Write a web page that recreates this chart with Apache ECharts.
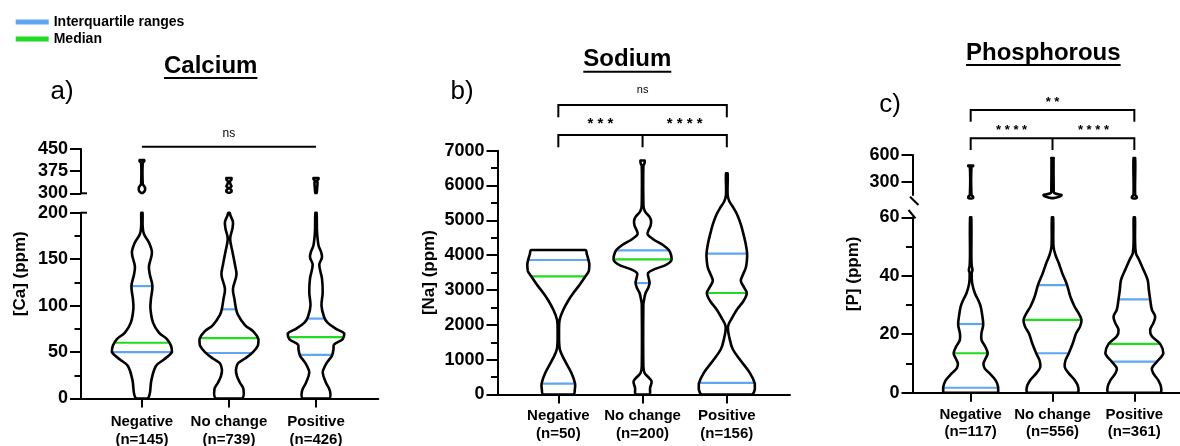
<!DOCTYPE html>
<html><head><meta charset="utf-8">
<script src="https://cdn.jsdelivr.net/npm/echarts@6/dist/echarts.min.js"></script>
<style>html,body{margin:0;padding:0;background:#fff}#c{width:1180px;height:446px}</style>
</head><body><div id="c"></div>
<script>
// ---------------- data ----------------
const categories = ['Negative', 'No change', 'Positive'];
const caCounts = [145, 739, 426];
const naCounts = [50, 200, 156];
const pCounts = [117, 556, 361];

const caQ1 = [50, 49, 47], caMedian = [60, 65, 66], caQ3 = [121, 96, 86];
const naQ1 = [315, 3200, 335], naMedian = [3390, 3881, 2914], naQ3 = [3862, 4138, 4043];
const pQ1 = [1.7, 13.5, 10.6], pMedian = [13.5, 24.9, 16.7], pQ3 = [23.5, 36.8, 31.9];

// violin profiles: [value, relative density (half width)]
const caNegDensity = [[0,6],[20,9.5],[35,14],[42,22],[50,30],[57,29],[64,25],[71,17],[82,11],[97,8.5],[107,9],[121,10.5],[133,8],[142,7],[157,10],[168,7],[177,2],[186,0.7],[200,0.6]];
const caNocDensity = [[0,13],[10,14.5],[17,11],[24,8],[31,7],[38,9],[43,16],[50,24],[57,29],[64,29.5],[72,24.5],[79,16],[90,9],[97,7],[107,5.5],[118,4],[133,7.5],[144,6],[158,3.5],[172,1.2],[183,3.5],[190,4],[197,1.5],[200,0.6]];
const caPosDensity = [[0,13],[8,14],[17,10],[28,6.7],[35,9],[41,12.5],[46,16],[53,17.5],[58,18],[64,26.7],[70,28.3],[75,20],[82,11.3],[88,8],[100,5.5],[114,6.7],[129,6],[144,3.3],[152,6],[158,5],[165,2.5],[180,1],[200,0.6]];
const caNegUpper = [[301,0.6],[306,2.5],[313,3.2],[320,3],[326,1.8],[332,0.8],[403,0.8],[408,2.2],[413,2.2]];
const caNocUpper = [[302,0.8],[305,2.5],[310,2.6],[315,1.2],[319,1.2],[324,2.6],[330,1.6],[340,1],[347,2.5],[352,2.5]];
const caPosUpper = [[301,0.6],[320,1.2],[335,1.5],[343,1.2],[348,2.5],[352,2.5]];

const naNegDensity = [[0,15],[150,16.5],[315,16.7],[622,13],[1000,6],[1300,1.5],[1800,0.7],[2149,1.3],[2435,5],[2700,10],[2914,15],[3165,21.7],[3390,27],[3550,30.5],[3738,31],[3881,30],[4024,28.5],[4150,27]];
const naNocDensity = [[0,6.7],[190,7.5],[380,9],[520,5],[620,2],[800,0.8],[2600,0.8],[2720,1.5],[2914,3],[3050,5.5],[3200,7],[3350,6],[3487,5.5],[3600,12],[3700,22],[3800,27.5],[3880,29],[4000,28.5],[4140,26.5],[4300,20],[4450,11],[4600,5],[4720,6],[4850,8],[4980,8.5],[5100,7],[5230,3],[5350,1.2],[5500,0.8],[6550,0.8],[6650,2],[6720,2]];
const naPosDensity = [[0,25],[150,28],[315,28],[622,23],[1003,13],[1300,6],[1576,3],[1957,1.2],[2212,5.5],[2435,10],[2700,17],[2914,20],[3070,17.3],[3261,14],[3451,16.3],[3642,19],[3833,20],[4043,20.3],[4310,19],[4596,16.7],[4882,14],[5168,10.3],[5358,6.7],[5549,2.5],[5740,0.8],[6350,0.8]];

const pNegDensity = [[0,27.5],[1.9,27.5],[4.2,25],[6.6,19],[8.3,14],[10,12.8],[11.8,15],[13.5,17],[15.8,14.5],[18.1,10.8],[20.4,10.8],[23.2,12.5],[26.1,11.7],[29.5,10],[31.7,7.5],[34,4.2],[37.4,1.5],[40.8,1],[42,1.8],[43.5,1],[46.5,0.7],[60,0.6]];
const pNocDensity = [[0,24.7],[1.9,25.7],[4.2,22.5],[6.6,16.3],[8.8,12.2],[11.1,13],[13.5,16.3],[16.9,20.3],[20.4,23.7],[22.6,27.5],[24.9,29],[27.2,26],[29.5,22],[32.9,17.8],[36.9,14.5],[40.9,9.7],[44.3,6.3],[47.1,3],[50,1],[60,0.6]];
const pPosDensity = [[0,25.8],[1.9,26.7],[4.2,24],[6.6,19],[8.3,17.5],[10.6,22.5],[13.5,29],[16.7,25.8],[19.3,17.5],[21.5,15.8],[23.8,19],[26.1,20.8],[28.4,17.5],[32,15.8],[35.2,14.5],[38.6,13.3],[42,9.2],[45.5,4.7],[47.8,1.5],[52.3,0.7],[60,0.6]];
const pNegUpper = [[110,0.6],[118,2.5],[135,2.2],[150,0.8],[470,0.8],[475,2.5],[480,2.5]];
const pNocUpper = [[115,0.8],[125,5],[140,8.5],[150,9],[160,5],[175,1.5],[200,1.2],[560,1],[565,1.2]];
const pPosUpper = [[110,0.6],[118,2.5],[135,2.2],[150,0.8],[565,0.8]];

const caLowerTicks = {min: 0, max: 200, interval: 50};
const caUpperTicks = {min: 300, max: 450, interval: 75};
const naTicks = {min: 0, max: 7000, interval: 1000};
const pLowerTicks = {min: 0, max: 60, interval: 20};
const pUpperTickValues = [300, 600];

// ---------------- rendering ----------------
const FONT = "'Liberation Sans', Arial, Helvetica, sans-serif";
const BLUE = '#5ea6f2', GREEN = '#1fdc1f';
const OUTLINE = 2.6;
const chart = echarts.init(document.getElementById('c'), null, {renderer: 'canvas'});

function interp(prof, v) {
  for (let k = 1; k < prof.length; k++) {
    if (v <= prof[k][0]) {
      const [v0, d0] = prof[k-1], [v1, d1] = prof[k];
      return d0 + (d1 - d0) * (v - v0) / (v1 - v0);
    }
  }
  return prof[prof.length-1][1];
}
function violinRender(profiles, s, mode) {
  return function (params, api) {
    const i = params.dataIndex, prof = profiles[i];
    const pts = [];
    prof.forEach(([v, d]) => pts.push(api.coord([i - d * s, v])));
    for (let k = prof.length - 1; k >= 0; k--) pts.push(api.coord([i + prof[k][1] * s, prof[k][0]]));
    let mn = [Infinity, Infinity], mx = [-Infinity, -Infinity];
    pts.forEach(p => { mn = [Math.min(mn[0], p[0]), Math.min(mn[1], p[1])]; mx = [Math.max(mx[0], p[0]), Math.max(mx[1], p[1])]; });
    return {
      type: 'polygon', silent: true,
      shape: {points: pts, smooth: 0.35, smoothConstraint: [mn, mx]},
      style: mode === 'fill' ? {fill: '#fff', stroke: null} : {fill: null, stroke: '#000', lineWidth: OUTLINE, lineJoin: 'round'}
    };
  };
}
function lineRender(profiles, lists, s, color) {
  return function (params, api) {
    const i = params.dataIndex;
    const children = lists.map(list => {
      const v = list[i];
      const hw = (interp(profiles[i], v) + 0.5) * s;
      const a = api.coord([i - hw, v]), b = api.coord([i + hw, v]);
      return {type: 'line', shape: {x1: a[0], y1: a[1], x2: b[0], y2: b[1]}, style: {stroke: color, lineWidth: 2.2}};
    });
    return {type: 'group', children: children};
  };
}
const idxData = [[0, 0], [1, 0], [2, 0]];
function violinSeriesSet(axisIdx, profiles, s, q1, med, q3, withLines) {
  const base = {type: 'custom', xAxisIndex: axisIdx, yAxisIndex: axisIdx, data: idxData, clip: false, silent: true};
  const out = [Object.assign({}, base, {renderItem: violinRender(profiles, s, 'fill'), z: 2})];
  if (withLines) {
    out.push(Object.assign({}, base, {name: 'Interquartile ranges', itemStyle: {color: BLUE}, renderItem: lineRender(profiles, [q1, q3], s, BLUE), z: 3}));
    out.push(Object.assign({}, base, {name: 'Median', itemStyle: {color: GREEN}, renderItem: lineRender(profiles, [med], s, GREEN), z: 3}));
  }
  out.push(Object.assign({}, base, {renderItem: violinRender(profiles, s, 'stroke'), z: 4}));
  return out;
}

const axisLineStyle = {show: true, onZero: false, lineStyle: {color: '#000', width: 2}};
function xAxisDef(gridIndex, min, max, counts, show, margin) {
  return {
    type: 'value', gridIndex, min, max, show,
    axisLine: axisLineStyle, splitLine: {show: false},
    axisTick: {show: true, length: 9, lineStyle: {color: '#000', width: 2}, customValues: [0, 1, 2]},
    axisLabel: {customValues: [0, 1, 2], margin: margin, color: '#000', fontFamily: FONT, fontWeight: 'bold', fontSize: 15, lineHeight: 17.5,
      formatter: v => categories[Math.round(v)] + '\n(n=' + counts[Math.round(v)] + ')'}
  };
}
function yAxisDef(gridIndex, t, minor, extra) {
  return Object.assign({
    type: 'value', gridIndex, min: t.min, max: t.max, interval: t.interval,
    axisLine: axisLineStyle, splitLine: {show: false},
    axisTick: {show: true, length: 11, lineStyle: {color: '#000', width: 2}},
    minorTick: {show: minor, splitNumber: 2, length: 6.5, lineStyle: {color: '#000', width: 2}},
    axisLabel: {margin: 13, color: '#000', fontFamily: FONT, fontWeight: 'bold', fontSize: 18, formatter: v => String(v)}
  }, extra || {});
}
function gridDef(left, right, top, bottom) {
  return {left, right, top, bottom, containLabel: false, outerBoundsMode: 'none'};
}

const option = {
  animation: false,
  backgroundColor: '#fff',
  legend: {orient: 'vertical', left: 15.7, top: 15, padding: 0, icon: 'rect', itemWidth: 33, itemHeight: 5, itemGap: 3, selectedMode: false,
    data: ['Interquartile ranges', 'Median'],
    textStyle: {fontFamily: FONT, fontWeight: 'bold', fontSize: 14, color: '#000'}},
  grid: [
    gridDef(81, 801.7, 212.7, 47.5),
    gridDef(81, 801.7, 149, 252.7),
    gridDef(497.5, 390, 150.7, 51.5),
    gridDef(912.5, 0, 217.3, 53.3),
    gridDef(912.5, 0, 155, 251)
  ],
  xAxis: [
    xAxisDef(0, -0.70, 2.716, caCounts, true, 15),
    xAxisDef(1, -0.70, 2.716, caCounts, false, 15),
    xAxisDef(2, -0.722, 2.75, naCounts, true, 13),
    xAxisDef(3, -0.711, 2.558, pCounts, true, 13),
    xAxisDef(4, -0.711, 2.558, pCounts, false, 13)
  ],
  yAxis: [
    yAxisDef(0, caLowerTicks, true),
    yAxisDef(1, caUpperTicks, false),
    yAxisDef(2, naTicks, true),
    yAxisDef(3, pLowerTicks, true),
    yAxisDef(4, {min: 150, max: 600}, false, {
      axisTick: {show: true, length: 11, lineStyle: {color: '#000', width: 2}, customValues: pUpperTickValues},
      axisLabel: {margin: 13, color: '#000', fontFamily: FONT, fontWeight: 'bold', fontSize: 18, customValues: pUpperTickValues, formatter: v => String(v)}
    })
  ],
  series: [].concat(
    violinSeriesSet(0, [caNegDensity, caNocDensity, caPosDensity], 1/87, caQ1, caMedian, caQ3, true),
    violinSeriesSet(1, [caNegUpper, caNocUpper, caPosUpper], 1/87, null, null, null, false),
    violinSeriesSet(2, [naNegDensity, naNocDensity, naPosDensity], 1/84.2, naQ1, naMedian, naQ3, true),
    violinSeriesSet(3, [pNegDensity, pNocDensity, pPosDensity], 1/81.8, pQ1, pMedian, pQ3, true),
    violinSeriesSet(4, [pNegUpper, pNocUpper, pPosUpper], 1/81.8, null, null, null, false)
  )
};
chart.setOption(option);

// ---------------- annotations ----------------
const mctx = document.createElement('canvas').getContext('2d');
function textW(txt, font) { mctx.font = font; return mctx.measureText(txt).width; }
const X = (ax, v) => chart.convertToPixel({xAxisIndex: ax}, v);
const Y = (ax, v) => chart.convertToPixel({yAxisIndex: ax}, v);
const g = [];
function line(x1, y1, x2, y2, lw) { g.push({type: 'line', silent: true, shape: {x1, y1, x2, y2}, style: {stroke: '#000', lineWidth: lw || 2}}); }
function text(t, x, y, font, rot) {
  g.push({type: 'text', silent: true, x, y, rotation: rot || 0,
    style: {text: t, font: font, fill: '#000', textAlign: 'center', textVerticalAlign: 'middle'}});
}
function title(t, cx, cy, uy) {
  const f = 'bold 24px ' + FONT;
  text(t, cx, cy, f);
  const w = textW(t, f);
  line(cx - w / 2, uy, cx + w / 2, uy, 2);
}
title('Calcium', 210.7, 66, 78);
title('Sodium', 627.3, 59, 71.7);
title('Phosphorous', 1043.3, 53, 65);
text('a)', 62, 92, '26px ' + FONT);
text('b)', 462, 92, '26px ' + FONT);
text('c)', 890, 105, '26px ' + FONT);
const yNameFont = 'bold 17px ' + FONT;
text('[Ca] (ppm)', 20.5, (Y(1, 450) + Y(0, 0)) / 2, yNameFont, Math.PI / 2);
text('[Na] (ppm)', 429, (Y(2, 7000) + Y(2, 0)) / 2, yNameFont, Math.PI / 2);
text('[P] (ppm)', 853.5, (Y(4, 600) + Y(3, 0)) / 2, yNameFont, Math.PI / 2);

// broken-axis marks
const caAx = X(0, -0.70);
line(caAx, Y(0, 200), caAx + 6, Y(0, 200));
line(caAx, Y(1, 300), caAx + 6, Y(1, 300));
const pAx = X(3, -0.711);
line(pAx - 2.5, 196.7, pAx + 6, 205);
line(pAx - 4, 210, pAx + 3, 218.3);

// significance brackets
const ca0 = X(0, 0), ca2 = X(0, 2);
line(ca0, 146.7, ca2, 146.7);
text('ns', (ca0 + ca2) / 2, 133.5, '12px ' + FONT);

const na0 = X(2, 0), na1 = X(2, 1), na2 = X(2, 2);
line(na0, 105, na2, 105); line(na0, 104, na0, 117.3); line(na2, 104, na2, 117.3);
text('ns', (na0 + na2) / 2, 90, '11px ' + FONT);
line(na0, 135, na2, 135); line(na0, 134, na0, 147.3); line(na2, 134, na2, 147.3); line(na1, 135, na1, 147.3);
text('* * *', (na0 + na1) / 2, 123.5, 'bold 15px ' + FONT);
text('* * * *', (na1 + na2) / 2, 123.5, 'bold 15px ' + FONT);

const p0 = X(3, 0), p1 = X(3, 1), p2 = X(3, 2);
line(p0, 110, p2, 110); line(p0, 109, p0, 121.7); line(p2, 109, p2, 121.7);
text('* *', (p0 + p2) / 2, 102, 'bold 13px ' + FONT);
line(p0, 138.3, p2, 138.3); line(p0, 137.3, p0, 150); line(p2, 137.3, p2, 150); line(p1, 138.3, p1, 150);
text('* * * *', (p0 + p1) / 2, 130, 'bold 13px ' + FONT);
text('* * * *', (p1 + p2) / 2, 130, 'bold 13px ' + FONT);

chart.setOption({graphic: {elements: g}});
</script>
</body></html>
